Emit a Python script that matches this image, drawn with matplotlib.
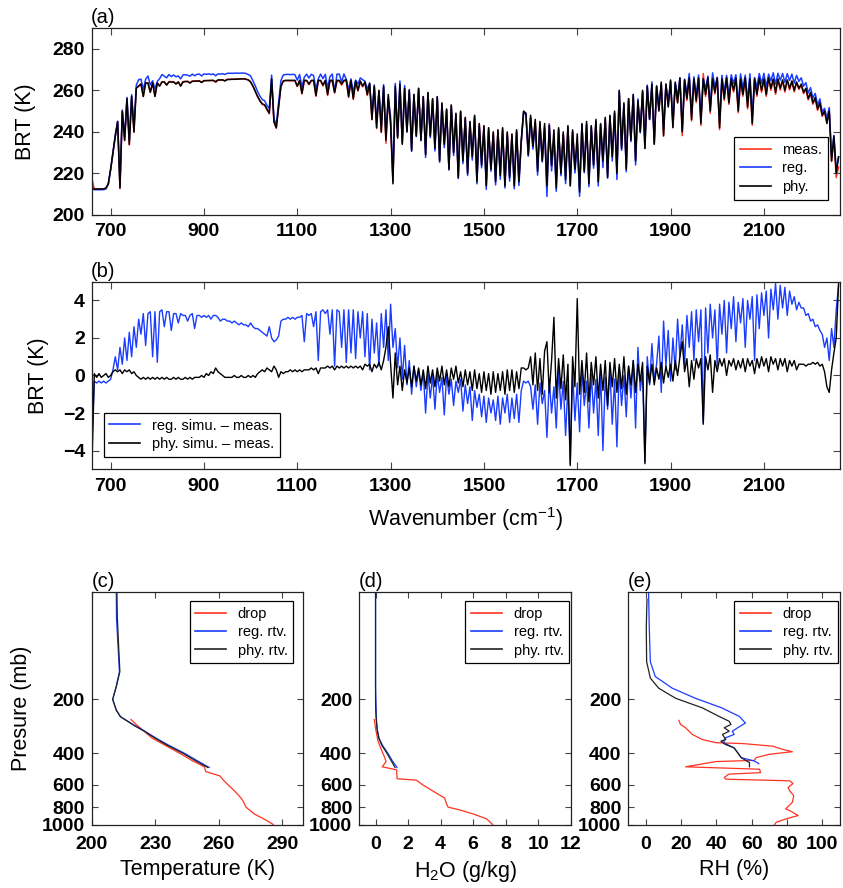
import numpy as np
import matplotlib
matplotlib.use('Agg')
import matplotlib.pyplot as plt
from matplotlib.ticker import NullLocator

plt.rcParams['font.family'] = ['Liberation Sans', 'DejaVu Sans']
plt.rcParams['mathtext.default'] = 'regular'

# ---------------- spectral data (5 cm-1 sampling grid) ----------------
wavenumber = np.arange(660, 2261, 5)

phy_bt = [
    212.5, 212.5, 212.5, 212.5, 212.5, 212.5, 213, 215, 222, 230, 238, 245, 213, 250, 236, 256, 234, 257, 240, 261,
    262, 263, 257, 263.5, 263.5, 259, 263.5, 257, 263.5, 262, 264, 264, 262.5, 264, 264, 264, 263, 264, 262, 264,
    264.2, 264.2, 263.5, 264.3, 264.4, 264.4, 264.5, 263.8, 264.6, 264.7, 264.7, 264.8, 264.8, 264.2, 265, 265, 265, 264.5, 265.2, 265.2,
    265.3, 265.3, 265.4, 265.4, 265.5, 265.5, 265.3, 265, 264, 262, 259.5, 257, 255, 253.5, 253, 251, 249, 265.5, 245, 242,
    252, 262, 264.5, 264.8, 264.8, 264.8, 264.8, 264.8, 262, 264.8, 258.5, 264.8, 264.8, 263, 264.8, 264.8, 257.5, 264.8, 264.8, 262.5,
    264.8, 258, 264.8, 264.8, 259, 264.8, 264.8, 263, 264.8, 265, 257, 264.8, 256, 264.5, 260, 264.5, 262, 264, 258, 263.5,
    246, 262, 242, 260, 240, 262, 236, 258, 244, 215, 262, 237, 263, 234, 261, 240, 260, 231, 258, 238,
    261, 236, 257, 229, 259, 238, 256, 232, 257, 226, 254, 234, 251, 222, 253, 230, 249, 218, 250, 226,
    247, 220, 245, 228, 248, 216, 244, 224, 243, 214, 242, 222, 240, 216, 241, 219, 242, 214, 240, 218,
    239, 214, 241, 216, 236, 250, 249, 229, 248, 233, 246, 221, 245, 226, 244, 214, 243, 224, 241, 213,
    242, 220, 240, 217, 243, 214, 241, 222, 239, 211, 244, 221, 245, 215, 243, 224, 246, 216, 244, 226,
    247, 218, 248, 228, 250, 220, 260, 232, 254, 222, 256, 236, 258, 226, 255, 240, 260, 232, 262, 246,
    263, 234, 262, 250, 264, 238, 263, 252, 265, 242, 264, 254, 266, 240, 265, 256, 266, 246, 265.5, 255,
    266, 244, 265.5, 258, 266, 250, 265.5, 259, 266, 242, 265.5, 256, 266, 254, 265.5, 260, 266, 250, 265.5, 258,
    266, 252, 265.5, 244, 265.5, 258, 266, 260, 265.5, 258, 266, 261, 265.5, 259, 265.5, 261, 265, 260, 265, 261,
    264.5, 260, 264, 261, 263, 259, 261, 256, 259, 254, 256.5, 251, 254, 248, 250, 244, 250, 226, 238, 220,
    228]

reg_minus_meas = [
    -3.5, -0.3, -0.4, -0.3, -0.4, -0.3, -0.4, -0.3, -0.2, 0.3, 1.0, 0.3, 1.5, 0.6, 2.0, 0.8, 2.3, 1.0, 2.6, 1.5,
    3.0, 2.2, 3.3, 1.6, 3.3, 3.4, 1.0, 3.4, 0.7, 3.4, 3.5, 2.6, 3.4, 3.4, 2.4, 3.3, 3.3, 2.8, 3.3, 3.2,
    3.2, 2.9, 3.2, 3.3, 2.5, 3.2, 3.2, 3.1, 3.2, 3.1, 3.2, 3.0, 3.2, 3.2, 3.1, 2.9, 3.0, 3.0, 2.9, 2.9,
    2.8, 2.9, 2.8, 2.7, 2.8, 2.7, 2.7, 2.6, 2.8, 2.6, 2.5, 2.5, 2.4, 2.3, 2.2, 2.1, 2.6, 2.0, 1.8, 1.9,
    2.1, 2.9, 3.0, 3.0, 3.1, 3.0, 3.1, 3.0, 3.1, 3.1, 3.2, 1.8, 3.3, 3.2, 3.3, 2.6, 3.4, 0.8, 3.4, 3.5,
    3.3, 3.5, 2.2, 3.5, 0.5, 3.5, 3.4, 1.5, 3.5, 0.7, 3.5, 1.2, 3.5, 0.9, 3.4, 2.0, 3.4, 1.0, 3.3, 0.3,
    3.0, 1.2, 2.8, 0.5, 3.3, 1.5, 3.5, 0.8, 3.8, 1.5, 2.5, 0.4, 2.0, -0.2, 1.6, -0.5, 0.8, -1.0, 0.5, -0.6,
    0.3, -0.8, 0.2, -2.0, 0.1, -1.2, 0.0, -1.8, 0.1, -0.9, -0.1, -2.1, 0.0, -1.0, -0.2, -1.6, -0.3, -0.9, -0.2, -1.9,
    -0.5, -1.5, -0.6, -2.4, -0.8, -1.7, -1.0, -2.2, -1.1, -2.5, -1.2, -2.0, -1.3, -2.4, -1.1, -2.6, -1.2, -2.0, -1.0, -2.5,
    -1.2, -2.3, -1.0, -2.5, -0.8, -0.3, -0.4, -0.3, -0.6, -1.8, -0.5, -2.6, -0.4, -1.5, -0.8, -3.3, -0.2, -2.0, -0.6, -2.8,
    0.3, -1.8, -0.3, -3.2, -0.5, -4.7, 0.2, -2.4, -0.4, -3.0, 0.3, -1.6, -0.3, -2.8, 0.1, -2.0, -0.2, -3.2, 0.2, -4.0,
    -0.1, -1.8, 0.3, -2.6, -0.2, -3.8, 0.4, -1.6, 0.0, -2.2, 0.5, -1.2, 0.8, -2.8, 1.5, -0.8, 0.2, -4.6, 1.0, -0.5,
    1.7, -0.3, 0.6, 2.1, -0.9, 2.9, 0.5, 2.4, -0.3, 2.0, 0.3, 3.0, 1.0, 2.7, 0.6, 3.2, 1.5, 3.4, 0.8, 3.5,
    1.8, 3.5, -2.5, 3.6, 1.2, 3.8, 2.0, 3.5, 0.5, 3.8, 2.2, 4.0, 1.2, 3.9, 2.5, 4.2, 1.8, 3.9, 2.8, 4.1,
    1.5, 4.0, 3.0, 4.2, 0.8, 4.3, 2.5, 4.4, 3.2, 4.5, 2.0, 4.6, 3.5, 4.9, 3.0, 4.8, 3.6, 4.7, 3.2, 4.5,
    3.8, 4.2, 3.5, 3.9, 3.6, 3.6, 3.2, 3.3, 2.9, 3.0, 2.6, 2.7, 2.4, 2.2, 1.5, 2.0, 0.8, 2.5, 1.5, 3.5,
    4.8]

phy_minus_meas = [
    -4.8, 0.1, -0.1, 0.1, -0.1, 0.0, 0.1, -0.1, 0.0, 0.2, 0.3, 0.2, 0.3, 0.1, 0.3, 0.2, 0.3, 0.1, 0.2, 0.0,
    -0.1, -0.2, -0.1, -0.2, -0.1, -0.2, -0.1, -0.2, -0.1, -0.2, -0.1, -0.2, -0.1, -0.2, -0.2, -0.1, -0.2, -0.1, -0.2, -0.2,
    -0.1, -0.2, -0.1, -0.2, -0.1, -0.1, -0.1, 0.0, -0.1, 0.1, 0.0, 0.2, 0.1, 0.4, 0.2, 0.1, 0.0, -0.1, -0.1, -0.1,
    -0.1, 0.0, -0.1, -0.1, 0.0, -0.1, -0.1, 0.0, -0.1, 0.0, -0.1, 0.1, 0.2, 0.3, 0.2, 0.4, 0.3, 0.2, 0.5, 0.3,
    -0.1, 0.2, 0.1, 0.2, 0.2, 0.3, 0.2, 0.3, 0.2, 0.3, 0.2, 0.3, 0.3, 0.3, 0.4, 0.3, 0.4, 0.1, 0.4, 0.4,
    0.4, 0.5, 0.4, 0.5, 0.3, 0.5, 0.4, 0.5, 0.4, 0.5, 0.4, 0.5, 0.4, 0.5, 0.4, 0.5, 0.3, 0.6, 0.5, 0.6,
    0.2, 0.6, 0.4, 0.7, 0.3, 0.8, 1.5, 2.6, 0.6, -1.2, 1.2, -0.5, 0.5, -0.8, 0.3, -0.4, 0.4, -0.6, 0.5, -0.3,
    0.4, -0.5, 0.3, -0.7, 0.5, -0.4, 0.3, -0.6, 0.4, -0.3, 0.5, -0.5, 0.3, -0.6, 0.4, -0.2, 0.5, -0.4, 0.2, -0.6,
    0.3, -0.5, 0.2, -0.8, 0.3, -0.7, 0.1, -0.9, 0.2, -0.8, 0.1, -1.0, 0.2, -0.9, 0.1, -0.8, 0.2, -1.0, 0.3, -0.8,
    0.3, -0.9, 0.2, -0.7, 0.4, 0.4, 0.3, 0.4, 1.0, -0.5, 1.2, -0.8, 0.9, -1.0, 1.3, 1.8, -0.9, 0.8, 3.1, -1.2,
    0.9, -0.7, 1.1, -1.3, 0.6, -4.8, 1.0, -0.6, 4.1, -1.0, 0.8, -0.9, 1.2, -1.4, 0.7, -0.5, 1.0, -1.2, 0.6, -0.8,
    0.8, -1.6, 0.7, -0.6, 0.9, -0.9, 0.6, -0.7, 1.0, -1.0, 0.5, -0.5, 0.8, -0.9, 0.6, -0.3, 0.7, -4.7, 0.5, -0.4,
    0.6, -0.5, 0.4, -0.2, 0.7, -0.4, 0.5, -0.1, 0.6, -0.3, 0.8, 0.0, 1.0, 1.8, 0.2, 0.9, -0.6, 0.8, -0.2, 0.9,
    0.4, 0.9, -2.6, 1.0, 0.3, 1.1, -0.9, 0.8, 0.2, 0.9, 0.5, 0.9, 0.0, 0.8, 0.5, 0.9, 0.3, 0.8, 0.4, 0.9,
    0.2, 0.9, 0.5, 0.8, 0.1, 0.9, 0.4, 1.0, 0.5, 0.9, 0.2, 1.0, 0.6, 0.9, 0.3, 0.9, 0.5, 0.9, 0.2, 0.8,
    0.5, 0.8, 0.3, 0.6, 0.6, 0.6, 0.5, 0.6, 0.6, 0.7, 0.6, 0.7, 0.5, 0.6, 0.2, -0.6, -0.9, 0.3, 1.2, 2.0,
    4.9]

# ---------------- profile data ----------------
# (c) temperature
p_T_rtv = [50, 70, 100, 140, 170, 200, 230, 250, 280, 300, 330, 360, 400, 440, 480]
T_phy = [211.8, 212.0, 212.6, 213.2, 211.5, 209.8, 211.5, 213.5, 220.0, 224.5, 230.0, 235.5, 243.0, 249.0, 254.8]
T_reg = [211.5, 211.6, 212.3, 213.0, 211.4, 209.8, 211.6, 213.5, 220.3, 224.8, 230.5, 236.2, 243.8, 249.8, 255.5]
p_T_drop = [259, 280, 300, 328, 360, 402, 440, 476, 506, 535, 570, 600, 650, 700, 736, 800, 873, 940, 1000]
T_drop = [218.5, 221.5, 224.5, 228.3, 234.5, 241.8, 247.5, 253.2, 253.8, 260.5, 262.5, 264.4, 267.5, 270.0,
          271.4, 272.9, 276.8, 282.0, 285.8]

# (d) water vapour mixing ratio
p_q_rtv = [50, 70, 100, 140, 170, 200, 230, 250, 280, 300, 330, 360, 400, 440, 480]
q_phy = [0.0, 0.0, 0.0, 0.0, 0.0, 0.0, 0.01, 0.03, 0.07, 0.11, 0.2, 0.38, 0.7, 0.96, 1.2]
q_reg = [0.0, 0.0, 0.0, 0.0, 0.0, 0.02, 0.04, 0.05, 0.08, 0.12, 0.22, 0.42, 0.76, 1.03, 1.32]
p_q_drop = [259, 290, 342, 380, 420, 445, 476, 495, 555, 565, 600, 640, 690, 711, 760, 800, 829, 873, 929, 1000]
q_drop = [-0.08, 0.0, 0.15, 0.35, 0.55, 0.65, 0.41, 1.3, 1.32, 2.5, 2.9, 3.4, 4.0, 4.25, 4.35, 4.46, 5.18,
          6.0, 6.82, 7.2]

# (e) relative humidity
p_rh_phy = [55, 80, 123, 152, 173, 197, 223, 249, 265, 276, 288, 301, 314, 335, 342, 357, 373, 397, 423,
            451, 476]
rh_phy = [0.6, 0.2, 0.4, 2.5, 7.2, 16.8, 32, 41.5, 47.2, 48.2, 44.4, 47.2, 43.4, 45.3, 42.5, 45, 50, 52,
          54, 58.7, 58.7]
p_rh_reg = [50, 80, 123, 149, 173, 197, 223, 249, 271, 288, 301, 314, 328, 349, 373, 397, 423, 442, 457]
rh_reg = [1.5, 1.9, 2.5, 5.3, 14.9, 28, 43, 53, 56.4, 52, 49, 50, 45, 44, 50, 52, 54, 61.5, 64]
p_rh_drop = [262, 276, 288, 314, 335, 349, 353, 365, 381, 392, 405, 423, 438, 445, 476, 491, 513, 523,
             546, 558, 570, 590, 621, 648, 690, 752, 818, 836, 891, 929, 971, 1000]
rh_drop = [18.7, 19.6, 22.5, 26.3, 32, 39.6, 54.9, 72, 77.7, 83, 70, 62.5, 61.5, 39.6, 22.5, 64.4, 65, 47,
           44.4, 45.3, 81.5, 83.4, 80.6, 81.5, 83.8, 83, 79.2, 81.5, 86.3, 79.6, 73.9, 73]

# ---------------- derived spectra ----------------
n = min(len(wavenumber), len(phy_bt), len(reg_minus_meas), len(phy_minus_meas))
wn = wavenumber[:n]
phy = np.array(phy_bt[:n], float)
d_reg = np.array(reg_minus_meas[:n], float)
d_phy = np.array(phy_minus_meas[:n], float)
meas = phy - d_phy
reg = meas + d_reg

RED = '#ff3322'
BLUE = '#1a3cff'
BLACK = 'black'
TICK_FS = 14
LAB_FS = 15.5
LEG_FS = 10.5

fig = plt.figure(figsize=(8.43, 8.88), dpi=100)

ax_a = fig.add_axes([0.1091, 0.7579, 0.8873, 0.2106])
ax_b = fig.add_axes([0.1091, 0.4715, 0.8873, 0.2113])
ax_c = fig.add_axes([0.1091, 0.0715, 0.2507, 0.2622])
ax_d = fig.add_axes([0.4262, 0.0715, 0.2508, 0.2622])
ax_e = fig.add_axes([0.7453, 0.0715, 0.2511, 0.2622])


def fmt(v):
    s = str(v)
    return s.replace('-', '\u2212')


def style(ax, xt, yt, tl=5, xpad=6, ypad=5):
    ax.set_xticks(xt)
    ax.set_xticklabels([fmt(t) for t in xt], fontweight='bold', fontsize=TICK_FS)
    ax.set_yticks(yt)
    ax.set_yticklabels([fmt(t) for t in yt], fontweight='bold', fontsize=TICK_FS)
    ax.xaxis.set_minor_locator(NullLocator())
    ax.yaxis.set_minor_locator(NullLocator())
    ax.tick_params(direction='in', top=True, right=True, length=tl, width=0.8, color='#444444')
    ax.tick_params(axis='x', pad=xpad)
    ax.tick_params(axis='y', pad=ypad)
    for s in ax.spines.values():
        s.set_linewidth(0.9)
        s.set_color('#222222')


def legend(ax, **kw):
    lg = ax.legend(fontsize=LEG_FS, frameon=True, fancybox=False, framealpha=1,
                   edgecolor='black', borderaxespad=0, handlelength=2.1,
                   labelspacing=0.3, borderpad=0.4, handletextpad=0.8, **kw)
    lg.get_frame().set_linewidth(0.9)
    for ln in lg.get_lines():
        ln.set_linewidth(1.2)
    return lg


def tag(ax, s):
    ax.text(-0.002, 1.005, s, transform=ax.transAxes, ha='left', va='bottom', fontsize=14.5)


# ---- (a) ----
ax_a.plot(wn, meas, color=RED, lw=1.1, label='meas.')
ax_a.plot(wn, reg, color=BLUE, lw=1.1, label='reg.')
ax_a.plot(wn, phy, color=BLACK, lw=1.1, label='phy.')
ax_a.set_xlim(660, 2263)
ax_a.set_ylim(200, 290)
style(ax_a, [700, 900, 1100, 1300, 1500, 1700, 1900, 2100], [200, 220, 240, 260, 280])
ax_a.set_ylabel('BRT (K)', fontsize=LAB_FS)
ax_a.yaxis.set_label_coords(-0.075, 0.5)
legend(ax_a, loc='upper right', bbox_to_anchor=(0.984, 0.4155))
tag(ax_a, '(a)')

# ---- (b) ----
ax_b.plot(wn, d_reg, color=BLUE, lw=1.0, label='reg. simu. \u2013 meas.')
ax_b.plot(wn, d_phy, color=BLACK, lw=1.0, label='phy. simu. \u2013 meas.')
ax_b.set_xlim(660, 2263)
ax_b.set_ylim(-5, 5)
style(ax_b, [700, 900, 1100, 1300, 1500, 1700, 1900, 2100], [-4, -2, 0, 2, 4])
ax_b.set_ylabel('BRT (K)', fontsize=LAB_FS)
ax_b.yaxis.set_label_coords(-0.057, 0.5)
ax_b.set_xlabel('Wavenumber (cm$^{-1}$)', fontsize=LAB_FS)
ax_b.xaxis.set_label_coords(0.5, -0.19)
legend(ax_b, loc='lower left', bbox_to_anchor=(0.0156, 0.067))
tag(ax_b, '(b)')


# ---- profiles ----
def prof_axes(ax, xt, xlim, xlabel):
    ax.set_yscale('log')
    ax.set_ylim(1000, 50)
    ax.set_xlim(*xlim)
    style(ax, xt, [200, 400, 600, 800, 1000], tl=4.5, xpad=8, ypad=5)
    ax.set_xlabel(xlabel, fontsize=LAB_FS)
    ax.xaxis.set_label_coords(0.5, -0.15)


ax_c.plot(T_drop, p_T_drop, color=RED, lw=0.9, label='drop')
ax_c.plot(T_reg, p_T_rtv, color=BLUE, lw=0.9, label='reg. rtv.')
ax_c.plot(T_phy, p_T_rtv, color='#222222', lw=0.9, label='phy. rtv.')
prof_axes(ax_c, [200, 230, 260, 290], (200, 300), 'Temperature (K)')
ax_c.set_ylabel('Presure (mb)', fontsize=LAB_FS)
ax_c.yaxis.set_label_coords(-0.285, 0.5)
legend(ax_c, loc='upper right', bbox_to_anchor=(0.953, 0.96))
tag(ax_c, '(c)')

ax_d.plot(q_drop, p_q_drop, color=RED, lw=0.9, label='drop')
ax_d.plot(q_reg, p_q_rtv, color=BLUE, lw=0.9, label='reg. rtv.')
ax_d.plot(q_phy, p_q_rtv, color='#222222', lw=0.9, label='phy. rtv.')
prof_axes(ax_d, [0, 2, 4, 6, 8, 10, 12], (-1, 12), 'H$_2$O (g/kg)')
legend(ax_d, loc='upper right', bbox_to_anchor=(0.993, 0.96))
tag(ax_d, '(d)')

ax_e.plot(rh_drop, p_rh_drop, color=RED, lw=0.9, label='drop')
ax_e.plot(rh_reg, p_rh_reg, color=BLUE, lw=0.9, label='reg. rtv.')
ax_e.plot(rh_phy, p_rh_phy, color='#222222', lw=0.9, label='phy. rtv.')
prof_axes(ax_e, [0, 20, 40, 60, 80, 100], (-10, 110), 'RH (%)')
legend(ax_e, loc='upper right', bbox_to_anchor=(0.992, 0.96))
tag(ax_e, '(e)')

fig.savefig('out.png', dpi=100)
